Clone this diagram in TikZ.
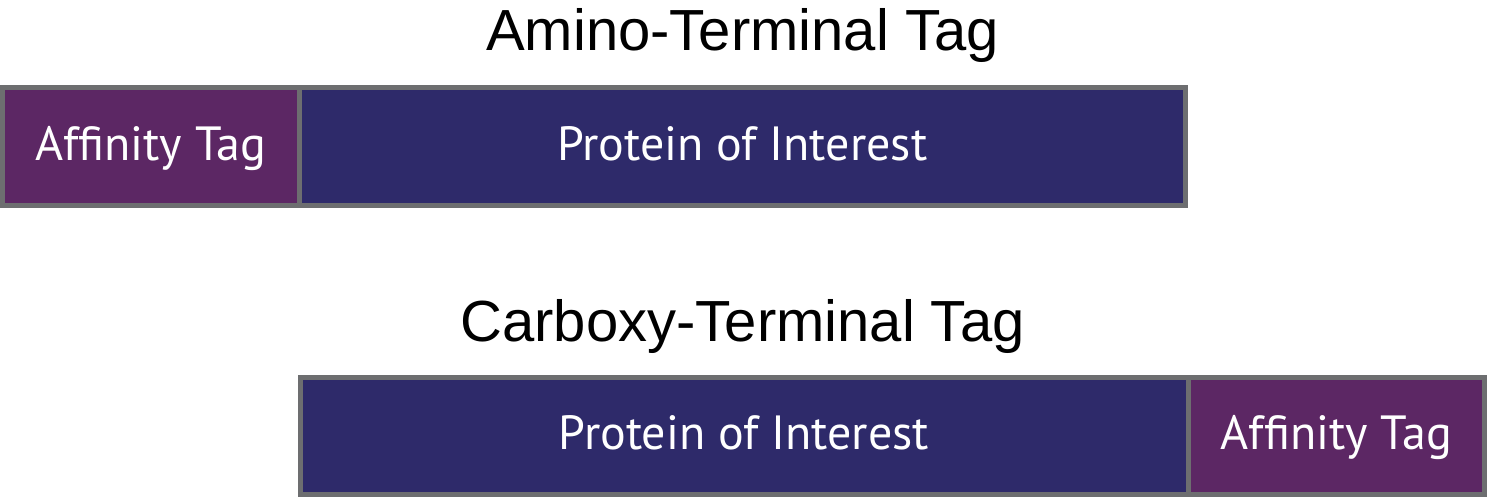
\documentclass[tikz,border=0pt]{standalone}
\usepackage{fontspec}
\setmainfont{Liberation Sans}
\newfontfamily\labelfont{PT Sans}
\definecolor{tagpurple}{HTML}{5C2764}
\definecolor{poinavy}{HTML}{2E2A6A}
\definecolor{edgegray}{HTML}{6D6E70}
\tikzset{
  seg/.style={draw=edgegray, line width=5pt, inner sep=0pt, outer sep=0pt,
    text=white, font=\labelfont\fontsize{48}{48}\selectfont,
    text height=34pt, text depth=7pt},
  tagbox/.style={seg, fill=tagpurple},
  poibox/.style={seg, fill=poinavy},
  title/.style={anchor=base, font=\fontsize{58}{58}\selectfont, inner sep=0pt}
}
\begin{document}
\begin{tikzpicture}[x=1pt,y=-1pt]
\useasboundingbox (0,0) rectangle (1488,498);
\node[title] (t1) at (742.5,50) {Amino-Terminal Tag};
\node[tagbox, minimum width=296.5pt, minimum height=118pt] (a1) at (150.75,146.5) {Affinity Tag};
\node[poibox, minimum width=886.5pt, minimum height=118pt] (p1) at (742.25,146.5) {Protein of Interest};
\node[title] (t2) at (742.5,341) {Carboxy-Terminal Tag};
\node[poibox, minimum width=888pt, minimum height=117pt] (p2) at (744,436) {Protein of Interest};
\node[tagbox, minimum width=296.5pt, minimum height=117pt] (a2) at (1336.25,436) {Affinity Tag};
\end{tikzpicture}
\end{document}
